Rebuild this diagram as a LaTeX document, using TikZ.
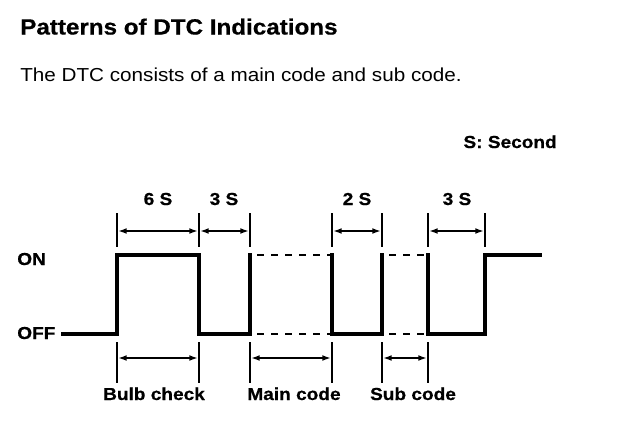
\documentclass[tikz,border=0pt]{standalone}
\usepackage{fontspec}
\setmainfont{Liberation Sans}[FakeStretch=1.1, BoldFeatures={FakeBold=0.6}]
\usetikzlibrary{arrows.meta}
\begin{document}
\begin{tikzpicture}[x=0.75pt,y=-0.75pt,
  sig/.style={line width=2.3pt, line join=miter, line cap=rect},
  dsh/.style={line width=2.2pt, dash pattern=on 5.25pt off 5.25pt, dash phase=5.25pt},
  tickline/.style={line width=1.2pt},
  dim/.style={line width=1.2pt, {Latex[length=6.5pt,width=4.4pt]}-{Latex[length=6.5pt,width=4.4pt]}, shorten >=0.8pt, shorten <=0.8pt},
  lbl/.style={font=\fontsize{13}{15}\selectfont\bfseries, inner sep=0pt, anchor=base},
]
\useasboundingbox (0,0) rectangle (640,422);
% texts
\node[anchor=base west, inner sep=0pt, font=\fontsize{16.5}{19}\selectfont\bfseries] (title) at (20,34.5) {Patterns of DTC Indications};
\node[anchor=base west, inner sep=0pt, font=\fontsize{14.1}{17}\selectfont] (subtitle) at (20,81) {The DTC consists of a main code and sub code.};
\node[lbl, anchor=base east] (unit) at (557,148) {S: Second};
\node[lbl, anchor=base west] (on) at (17,265) {ON};
\node[lbl, anchor=base west] (off) at (17,339) {OFF};
% tick coordinates
\foreach \n/\x in {a/117,b/199,c/250,d/332,e/382,f/428,g/485}{
  \coordinate (T\n1) at (\x,213);
  \coordinate (T\n2) at (\x,247);
  \coordinate (A\n) at (\x,231);
  \coordinate (B\n1) at (\x,342);
  \coordinate (B\n2) at (\x,383);
  \coordinate (D\n) at (\x,358);
}
% top ticks
\foreach \n in {a,b,c,d,e,f,g}{\draw[tickline] (T\n1) -- (T\n2);}
% bottom ticks
\foreach \n in {a,b,c,d,e,f}{\draw[tickline] (B\n1) -- (B\n2);}
% dimension arrows
\draw[dim] (Aa) -- (Ab);
\draw[dim] (Ab) -- (Ac);
\draw[dim] (Ad) -- (Ae);
\draw[dim] (Af) -- (Ag);
\draw[dim] (Da) -- (Db);
\draw[dim] (Dc) -- (Dd);
\draw[dim] (De) -- (Df);
% duration labels
\node[lbl] (l6s) at (158,205) {6 S};
\node[lbl] (l3sa) at (224,205) {3 S};
\node[lbl] (l2s) at (357,205) {2 S};
\node[lbl] (l3sb) at (457,205) {3 S};
\node[lbl] (bulb) at (154,400) {Bulb check};
\node[lbl] (mainc) at (294,400) {Main code};
\node[lbl] (subc) at (413,400) {Sub code};
% signal corners
\coordinate (p0) at (63,334);
\coordinate (p1) at (117,334);
\coordinate (p2) at (117,255);
\coordinate (p3) at (199,255);
\coordinate (p4) at (199,334);
\coordinate (p5) at (250,334);
\coordinate (p6) at (250,255);
\coordinate (p7) at (332,255);
\coordinate (p8) at (332,334);
\coordinate (p9) at (382,334);
\coordinate (p10) at (382,255);
\coordinate (p11) at (428,255);
\coordinate (p12) at (428,334);
\coordinate (p13) at (485,334);
\coordinate (p14) at (485,255);
\coordinate (p15) at (540,255);
% signal
\draw[sig] (p0) -- (p1) -- (p2) -- (p3) -- (p4) -- (p5) -- (p6);
\draw[sig] (p7) -- (p8) -- (p9) -- (p10);
\draw[sig] (p11) -- (p12) -- (p13) -- (p14) -- (p15);
\draw[dsh] (p6) -- (p7);
\draw[dsh] (p5) -- (p8);
\draw[dsh] (p10) -- (p11);
\draw[dsh] (p9) -- (p12);
\end{tikzpicture}
\end{document}
